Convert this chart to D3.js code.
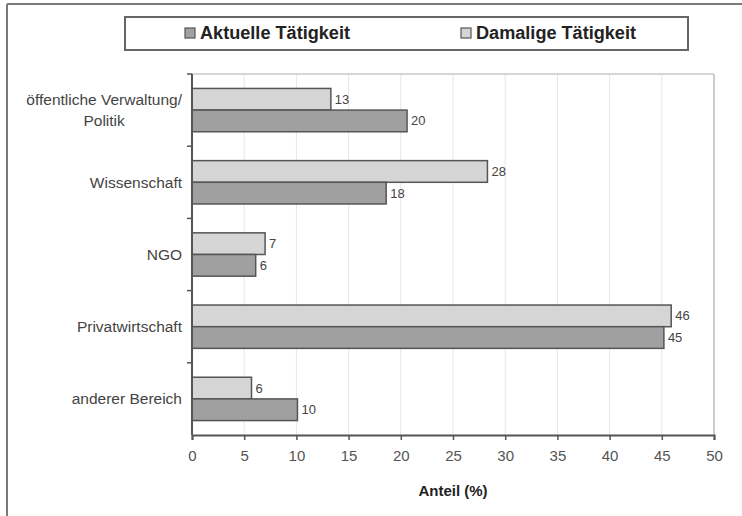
<!DOCTYPE html>
<html>
<head>
<meta charset="utf-8">
<script src="https://cdn.jsdelivr.net/npm/d3@7/dist/d3.min.js"></script>
<style>
  body { margin: 0; background: #fff; }
  svg { display: block; }
</style>
</head>
<body>
<svg id="chart" width="742" height="516"></svg>
<script>
const categories = ["öffentliche Verwaltung/\nPolitik", "Wissenschaft", "NGO", "Privatwirtschaft", "anderer Bereich"];
const seriesNames = ["Damalige Tätigkeit", "Aktuelle Tätigkeit"];
const damaligeValues = [13.3, 28.3, 7.0, 45.9, 5.7];
const aktuelleValues = [20.6, 18.6, 6.1, 45.2, 10.1];
const damaligeLabels = ["13", "28", "7", "46", "6"];
const aktuelleLabels = ["20", "18", "6", "45", "10"];
const xTicks = [0, 5, 10, 15, 20, 25, 30, 35, 40, 45, 50];
const xTitle = "Anteil (%)";
const colors = {"Damalige Tätigkeit": "#d5d5d5", "Aktuelle Tätigkeit": "#a0a0a0"};

const svg = d3.select("#chart");
const font = "'Liberation Sans', Arial, sans-serif";
const narrow = "'Liberation Sans Narrow', 'Liberation Sans', Arial, sans-serif";

// outer frame (top and left visible)
svg.append("line").attr("x1", 7).attr("x2", 742).attr("y1", 4).attr("y2", 4)
  .attr("stroke", "#7a7a7a").attr("stroke-width", 2);
svg.append("line").attr("x1", 7).attr("x2", 7).attr("y1", 4).attr("y2", 516)
  .attr("stroke", "#7a7a7a").attr("stroke-width", 2);

const pLeft = 192, pRight = 714, pTop = 74, pBottom = 435;
const x = d3.scaleLinear().domain([0, 50]).range([pLeft, pRight]);
const y = d3.scaleBand().domain(categories).range([pTop, pBottom]).paddingInner(0.4).paddingOuter(0.2);
const ySub = d3.scaleBand().domain(seriesNames).range([0, y.bandwidth()]);

// gridlines
svg.append("g").selectAll("line").data(xTicks.slice(1)).join("line")
  .attr("x1", d => x(d)).attr("x2", d => x(d)).attr("y1", pTop).attr("y2", pBottom)
  .attr("stroke", d => d === 50 ? "#bdbdbd" : "#e6e6e6").attr("stroke-width", d => d === 50 ? 1.5 : 1);
svg.append("line").attr("x1", pLeft).attr("x2", pRight).attr("y1", pTop).attr("y2", pTop)
  .attr("stroke", "#c8c8c8").attr("stroke-width", 1.5);

// bars
const data = categories.map((c, i) => ({
  cat: c,
  vals: [
    {s: seriesNames[0], v: damaligeValues[i], l: damaligeLabels[i]},
    {s: seriesNames[1], v: aktuelleValues[i], l: aktuelleLabels[i]}
  ]
}));
const groups = svg.append("g").selectAll("g").data(data).join("g")
  .attr("transform", d => `translate(0,${y(d.cat)})`);
groups.selectAll("rect").data(d => d.vals).join("rect")
  .attr("x", x(0)).attr("y", d => ySub(d.s))
  .attr("width", d => x(d.v) - x(0)).attr("height", ySub.bandwidth())
  .attr("fill", d => colors[d.s]).attr("stroke", "#555").attr("stroke-width", 1.5);
groups.selectAll("text").data(d => d.vals).join("text")
  .attr("x", d => x(d.v) + 4).attr("y", d => ySub(d.s) + ySub.bandwidth() / 2)
  .attr("dy", "0.35em").attr("font-family", font).attr("font-size", 13).attr("fill", "#444")
  .text(d => d.l);

// x axis
const xAxis = svg.append("g").attr("transform", `translate(0,${pBottom})`)
  .call(d3.axisBottom(x).tickValues(xTicks).tickSize(5).tickPadding(10));
xAxis.select(".domain").attr("stroke", "#555").attr("stroke-width", 2);
xAxis.selectAll(".tick line").attr("stroke", "#555").attr("stroke-width", 1.5);
xAxis.selectAll(".tick text").attr("font-family", font).attr("font-size", 15).attr("fill", "#555");

// y axis with ticks at category boundaries
const bounds = d3.range(categories.length + 1).map(i => pTop + i * (pBottom - pTop) / categories.length);
svg.append("line").attr("x1", pLeft).attr("x2", pLeft).attr("y1", pTop).attr("y2", pBottom)
  .attr("stroke", "#555").attr("stroke-width", 2);
svg.append("g").selectAll("line").data(bounds.slice(0, -1)).join("line")
  .attr("x1", pLeft - 5).attr("x2", pLeft).attr("y1", d => d).attr("y2", d => d)
  .attr("stroke", "#555").attr("stroke-width", 1.5);

// category labels (block right-aligned at x=182, lines centred within block)
const catText = svg.append("g").selectAll("text").data(categories).join("text")
  .attr("font-family", font).attr("font-size", 15.5).attr("fill", "#444")
  .attr("y", d => y(d) + y.bandwidth() / 2);
catText.each(function(d) {
  const lines = d.split("\n");
  const t = d3.select(this);
  lines.forEach((ln, i) => {
    t.append("tspan").text(ln)
      .attr("dy", i === 0 ? ((lines.length === 1) ? "0.35em" : "-0.3em") : "1.35em");
  });
  const spans = t.selectAll("tspan");
  const w = d3.max(spans.nodes(), n => n.getComputedTextLength());
  spans.attr("text-anchor", "middle").attr("x", 182 - w / 2);
});

// axis title
svg.append("text").attr("x", (pLeft + pRight) / 2).attr("y", 496).attr("text-anchor", "middle")
  .attr("font-family", narrow).attr("font-weight", "bold").attr("font-size", 15).attr("fill", "#222")
  .text(xTitle);

// legend
svg.append("rect").attr("x", 125).attr("y", 17).attr("width", 563).attr("height", 33)
  .attr("fill", "#fff").attr("stroke", "#666").attr("stroke-width", 2);
const legendItems = [
  {s: "Aktuelle Tätigkeit", x: 185, w: 150},
  {s: "Damalige Tätigkeit", x: 461, w: 160}
];
const lg = svg.append("g").selectAll("g").data(legendItems).join("g")
  .attr("transform", d => `translate(${d.x},33)`);
lg.append("rect").attr("x", 0).attr("y", -5).attr("width", 10).attr("height", 10)
  .attr("fill", d => colors[d.s]).attr("stroke", "#555").attr("stroke-width", 1.2);
lg.append("text").attr("x", 15).attr("dy", "0.36em")
  .attr("font-family", narrow).attr("font-weight", "bold").attr("font-size", 18).attr("fill", "#222")
  .attr("textLength", d => d.w).attr("lengthAdjust", "spacingAndGlyphs")
  .text(d => d.s);
</script>
</body>
</html>
